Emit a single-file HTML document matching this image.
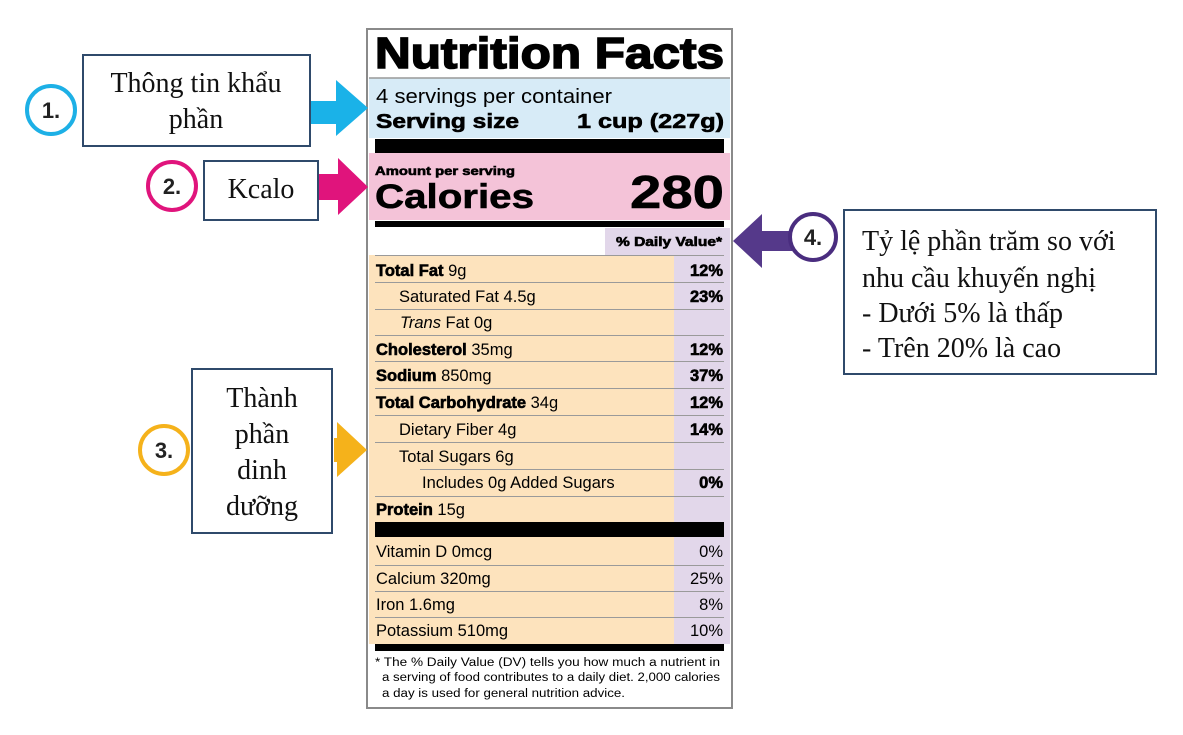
<!DOCTYPE html>
<html><head><meta charset="utf-8"><style>
html,body{margin:0;padding:0;background:#fff;}
svg{display:block;}
.s{font-family:"Liberation Sans",sans-serif;}
.r{font-family:"Liberation Serif","Noto Serif CJK SC",serif;fill:#111;}
.b{font-weight:bold;stroke:#000;stroke-width:0.6;}
</style></head><body>
<svg width="1183" height="735" viewBox="0 0 1183 735" xmlns="http://www.w3.org/2000/svg">
<rect width="1183" height="735" fill="#fff"/>
<rect x="369" y="78" width="361" height="60" fill="#d7ebf7"/>
<rect x="369" y="153" width="361" height="67" fill="#f4c3d8"/>
<rect x="605" y="228" width="125" height="27" fill="#e2d7ea"/>
<rect x="369" y="255" width="305" height="389" fill="#fde3bd"/>
<rect x="674" y="255" width="56" height="389" fill="#e2d7ea"/>
<rect x="367" y="29" width="365" height="679" fill="none" stroke="#8a8a8a" stroke-width="2"/>
<line x1="369" y1="78" x2="730" y2="78" stroke="#999" stroke-width="1.5"/>
<rect x="375" y="139" width="349" height="14" fill="#000"/>
<rect x="375" y="221" width="349" height="6" fill="#000"/>
<rect x="375" y="522" width="349" height="15" fill="#000"/>
<rect x="375" y="644" width="349" height="7" fill="#000"/>
<g stroke="#9a9a9a" stroke-width="1">
<line x1="375" y1="255.5" x2="724" y2="255.5"/>
<line x1="375" y1="282.5" x2="724" y2="282.5"/>
<line x1="375" y1="309.5" x2="724" y2="309.5"/>
<line x1="375" y1="335.5" x2="724" y2="335.5"/>
<line x1="375" y1="361.5" x2="724" y2="361.5"/>
<line x1="375" y1="388.5" x2="724" y2="388.5"/>
<line x1="375" y1="415.5" x2="724" y2="415.5"/>
<line x1="375" y1="442.5" x2="724" y2="442.5"/>
<line x1="420" y1="469.5" x2="724" y2="469.5"/>
<line x1="375" y1="496.5" x2="724" y2="496.5"/>
<line x1="375" y1="565.5" x2="724" y2="565.5"/>
<line x1="375" y1="591.5" x2="724" y2="591.5"/>
<line x1="375" y1="617.5" x2="724" y2="617.5"/>
</g>
<g class="s" fill="#000">
<text x="375" y="68" font-size="44" font-weight="bold" stroke="#000" stroke-width="1.6" textLength="349" lengthAdjust="spacingAndGlyphs">Nutrition Facts</text>
<text x="376" y="103" font-size="20" textLength="236" lengthAdjust="spacingAndGlyphs">4 servings per container</text>
<text x="376" y="128" font-size="20" class="b" textLength="143" lengthAdjust="spacingAndGlyphs">Serving size</text>
<text x="577" y="128" font-size="20" class="b" textLength="147" lengthAdjust="spacingAndGlyphs">1 cup (227g)</text>
<text x="375" y="175" font-size="12" class="b" textLength="140" lengthAdjust="spacingAndGlyphs">Amount per serving</text>
<text x="375" y="208" font-size="34" class="b" stroke-width="1" textLength="159" lengthAdjust="spacingAndGlyphs">Calories</text>
<text x="630" y="208" font-size="46" class="b" stroke-width="1.2" textLength="94" lengthAdjust="spacingAndGlyphs">280</text>
<text x="616" y="246" font-size="12.5" class="b" stroke-width="0.4" textLength="106" lengthAdjust="spacingAndGlyphs">% Daily Value*</text>
<g font-size="16.5">
<text x="376" y="276"><tspan class="b">Total Fat</tspan> 9g</text>
<text x="399" y="302">Saturated Fat 4.5g</text>
<text x="400" y="328"><tspan font-style="italic">Trans</tspan> Fat 0g</text>
<text x="376" y="355"><tspan class="b">Cholesterol</tspan> 35mg</text>
<text x="376" y="381"><tspan class="b">Sodium</tspan> 850mg</text>
<text x="376" y="408"><tspan class="b">Total Carbohydrate</tspan> 34g</text>
<text x="399" y="435">Dietary Fiber 4g</text>
<text x="399" y="462">Total Sugars 6g</text>
<text x="422" y="488">Includes 0g Added Sugars</text>
<text x="376" y="515"><tspan class="b">Protein</tspan> 15g</text>
<g class="b" text-anchor="end">
<text x="723" y="276">12%</text>
<text x="723" y="302">23%</text>
<text x="723" y="355">12%</text>
<text x="723" y="381">37%</text>
<text x="723" y="408">12%</text>
<text x="723" y="435">14%</text>
<text x="723" y="488">0%</text>
</g>
<text x="376" y="557">Vitamin D 0mcg</text>
<text x="376" y="584">Calcium 320mg</text>
<text x="376" y="610">Iron 1.6mg</text>
<text x="376" y="636">Potassium 510mg</text>
<g text-anchor="end">
<text x="723" y="557">0%</text>
<text x="723" y="584">25%</text>
<text x="723" y="610">8%</text>
<text x="723" y="636">10%</text>
</g>
</g>
<g font-size="11.5">
<text x="375" y="666" textLength="345" lengthAdjust="spacingAndGlyphs">* The % Daily Value (DV) tells you how much a nutrient in</text>
<text x="382" y="681" textLength="338" lengthAdjust="spacingAndGlyphs">a serving of food contributes to a daily diet. 2,000 calories</text>
<text x="382" y="697" textLength="243" lengthAdjust="spacingAndGlyphs">a day is used for general nutrition advice.</text>
</g>
</g>

<circle cx="51" cy="110" r="24" fill="#fff" stroke="#1db0e6" stroke-width="4"/>
<text x="51" y="118" class="s" font-size="22" font-weight="bold" text-anchor="middle" fill="#222">1.</text>
<rect x="83" y="55" width="227" height="91" fill="#fff" stroke="#2f4a6b" stroke-width="2"/>
<text x="196" y="92" class="r" font-size="28" text-anchor="middle">Thông tin khẩu</text>
<text x="196" y="128" class="r" font-size="28" text-anchor="middle">phần</text>
<polygon points="311,101 336,101 336,80 368,108 336,136 336,124 311,124" fill="#1ab2e8"/>

<circle cx="172" cy="186" r="24" fill="#fff" stroke="#e0147c" stroke-width="4"/>
<text x="172" y="194" class="s" font-size="22" font-weight="bold" text-anchor="middle" fill="#222">2.</text>
<rect x="204" y="161" width="114" height="59" fill="#fff" stroke="#2f4a6b" stroke-width="2"/>
<text x="261" y="198" class="r" font-size="28" text-anchor="middle">Kcalo</text>
<polygon points="319,174 338,174 338,158 368,187 338,215 338,200 319,200" fill="#e0147c"/>

<circle cx="164" cy="450" r="24" fill="#fff" stroke="#f5b21b" stroke-width="4"/>
<text x="164" y="458" class="s" font-size="22" font-weight="bold" text-anchor="middle" fill="#222">3.</text>
<rect x="192" y="369" width="140" height="164" fill="#fff" stroke="#2f4a6b" stroke-width="2"/>
<g class="r" font-size="28" text-anchor="middle">
<text x="262" y="407">Thành</text>
<text x="262" y="443">phần</text>
<text x="262" y="479">dinh</text>
<text x="262" y="515">dưỡng</text>
</g>
<polygon points="334,438 337,438 337,422 367,450 337,477 337,462 334,462" fill="#f5b21b"/>

<polygon points="733,241 762,214 762,231 792,231 792,251 762,251 762,268" fill="#55398a"/>
<circle cx="813" cy="237" r="23" fill="#fff" stroke="#4a2d7f" stroke-width="4"/>
<text x="813" y="245" class="s" font-size="22" font-weight="bold" text-anchor="middle" fill="#222">4.</text>
<rect x="844" y="210" width="312" height="164" fill="#fff" stroke="#2f4a6b" stroke-width="2"/>
<g class="r" font-size="28">
<text x="862" y="250">Tỷ lệ phần trăm so với</text>
<text x="862" y="287">nhu cầu khuyến nghị</text>
<text x="862" y="322">- Dưới 5% là thấp</text>
<text x="862" y="357">- Trên 20% là cao</text>
</g>
</svg>
</body></html>
